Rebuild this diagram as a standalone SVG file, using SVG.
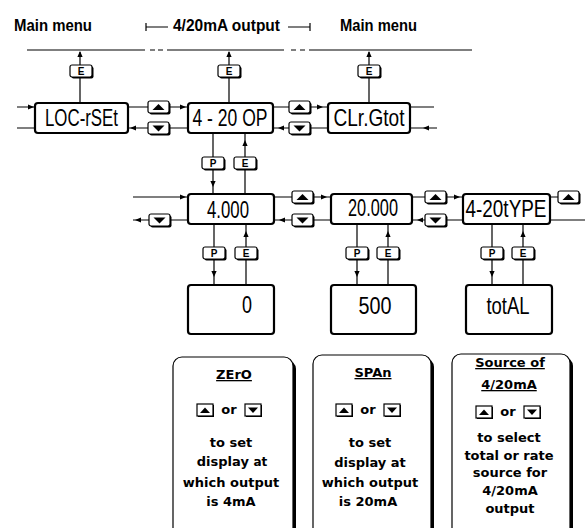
<svg xmlns="http://www.w3.org/2000/svg" width="585" height="528" viewBox="0 0 585 528">
<style>
.ln{stroke:#000;stroke-width:1.2;fill:none}
.box{fill:#fff;stroke:#000;stroke-width:2.2}
.disp{font-family:"Liberation Sans Narrow","Liberation Sans",sans-serif;font-size:24px;text-anchor:middle;fill:#000}
.hdr{font-family:"Liberation Sans Narrow","Liberation Sans",sans-serif;font-weight:bold;font-size:17px;fill:#000}
.info{font-family:"DejaVu Sans",Verdana,sans-serif;font-weight:bold;font-size:13px;text-anchor:middle;fill:#000}
.ul{text-decoration:underline}
.key{font-family:"Liberation Sans",Arial,sans-serif;font-weight:bold;font-size:10px;text-anchor:middle;fill:#000}
.ibox{fill:#fff;stroke:#000;stroke-width:1.2}
</style>
<defs>
<path id="ah" d="M0,0 L-6,-2.6 L-6,2.6 Z" fill="#000"/>
<g id="kbox"><rect x="1.5" y="1.5" width="22" height="12" rx="2" fill="#000"/><rect x="0" y="0" width="22" height="12" rx="2" fill="#fff" stroke="#000" stroke-width="1.2"/></g>
<g id="bu"><rect x="1.5" y="1.5" width="21" height="12" rx="2" fill="#000"/><rect x="0" y="0" width="21" height="12" rx="2" fill="#fff" stroke="#000" stroke-width="1.2"/><path d="M4.5,9 L16.5,9 L10.5,3 Z" fill="#000"/></g>
<g id="bd"><rect x="1.5" y="1.5" width="21" height="12" rx="2" fill="#000"/><rect x="0" y="0" width="21" height="12" rx="2" fill="#fff" stroke="#000" stroke-width="1.2"/><path d="M4.5,3.5 L16.5,3.5 L10.5,9.5 Z" fill="#000"/></g>
<g id="iu"><rect x="1" y="1" width="16" height="12" fill="#000"/><rect x="0" y="0" width="16" height="12" fill="#fff" stroke="#000" stroke-width="1.2"/><path d="M3,9 L13,9 L8,3.5 Z" fill="#000"/></g>
<g id="id"><rect x="1" y="1" width="16" height="12" fill="#000"/><rect x="0" y="0" width="16" height="12" fill="#fff" stroke="#000" stroke-width="1.2"/><path d="M3,3.5 L13,3.5 L8,9 Z" fill="#000"/></g>
</defs>

<g id="headers">
<text class="hdr" x="14" y="31" textLength="78" lengthAdjust="spacingAndGlyphs">Main menu</text>
<text class="hdr" x="173" y="31" textLength="107" lengthAdjust="spacingAndGlyphs">4/20mA output</text>
<text class="hdr" x="340" y="31" textLength="77" lengthAdjust="spacingAndGlyphs">Main menu</text>
<path class="ln" d="M146,23 V31 M146,27 H168 M288,27 H310 M310,23 V31"/>
</g>

<g id="connectors">
<path class="ln" d="M27,50 H145 M150,50 H155 M158,50 H163 M167,50 H284 M291,50 H296 M300,50 H305 M309,50 H472"/>
<path class="ln" d="M80,103 V52 M229,103 V52 M369,103 V52"/>
<use href="#ah" transform="translate(80,51) rotate(-90)"/>
<use href="#ah" transform="translate(229,51) rotate(-90)"/>
<use href="#ah" transform="translate(369,51) rotate(-90)"/>
<path class="ln" d="M17,107 H35 M17,128 H35 M128,107 H148 M169,107 H188 M128,128 H148 M169,128 H188 M273,107 H289 M310,107 H328 M273,128 H289 M310,128 H328 M410,107 H434 M410,128 H437"/>
<use href="#ah" transform="translate(34,107)"/>
<use href="#ah" transform="translate(186,107)"/>
<use href="#ah" transform="translate(130,128) rotate(180)"/>
<use href="#ah" transform="translate(323,107)"/>
<use href="#ah" transform="translate(278,128) rotate(180)"/>
<use href="#ah" transform="translate(423,128) rotate(180)"/>
<path class="ln" d="M213,133 V194 M245,194 V133"/>
<use href="#ah" transform="translate(213,187) rotate(90)"/>
<use href="#ah" transform="translate(245,140) rotate(-90)"/>
<path class="ln" d="M133,197 H188 M133,220 H149 M170,220 H188 M274,197 H292 M313,197 H331 M274,220 H292 M313,220 H331 M412,197 H425 M446,197 H463 M412,220 H425 M446,220 H463 M550,197 H558 M550,220 H585"/>
<use href="#ah" transform="translate(186,197)"/>
<use href="#ah" transform="translate(135,220) rotate(180)"/>
<use href="#ah" transform="translate(327,197)"/>
<use href="#ah" transform="translate(279,220) rotate(180)"/>
<use href="#ah" transform="translate(460,197)"/>
<use href="#ah" transform="translate(417,220) rotate(180)"/>
<path class="ln" d="M214,224 V285 M246,285 V224 M357,224 V285 M388,285 V224 M492,224 V285 M523,285 V224"/>
<use href="#ah" transform="translate(214,277) rotate(90)"/>
<use href="#ah" transform="translate(246,231) rotate(-90)"/>
<use href="#ah" transform="translate(357,277) rotate(90)"/>
<use href="#ah" transform="translate(388,231) rotate(-90)"/>
<use href="#ah" transform="translate(492,277) rotate(90)"/>
<use href="#ah" transform="translate(523,231) rotate(-90)"/>
<use href="#bu" x="148" y="101"/><use href="#bd" x="148" y="122"/>
<use href="#bu" x="289" y="101"/><use href="#bd" x="289" y="122"/>
<use href="#bd" x="149" y="214"/>
<use href="#bu" x="292" y="191"/><use href="#bd" x="292" y="214"/>
<use href="#bu" x="425" y="191"/><use href="#bd" x="425" y="214"/>
<use href="#bu" x="558" y="191"/>
<use href="#kbox" x="70" y="65"/><text class="key" x="81" y="75">E</text>
<use href="#kbox" x="218" y="65"/><text class="key" x="229" y="75">E</text>
<use href="#kbox" x="358" y="65"/><text class="key" x="369" y="75">E</text>
<use href="#kbox" x="202" y="157"/><text class="key" x="213" y="167">P</text>
<use href="#kbox" x="234" y="157"/><text class="key" x="245" y="167">E</text>
<use href="#kbox" x="203" y="247"/><text class="key" x="214" y="257">P</text>
<use href="#kbox" x="235" y="247"/><text class="key" x="246" y="257">E</text>
<use href="#kbox" x="346" y="247"/><text class="key" x="357" y="257">P</text>
<use href="#kbox" x="377" y="247"/><text class="key" x="388" y="257">E</text>
<use href="#kbox" x="481" y="247"/><text class="key" x="492" y="257">P</text>
<use href="#kbox" x="512" y="247"/><text class="key" x="523" y="257">E</text>
</g>

<g id="locrset"><rect class="box" x="35" y="103" width="93" height="30" rx="3"/><text class="disp" x="81.5" y="126" textLength="73" lengthAdjust="spacingAndGlyphs">LOC-rSEt</text></g>
<g id="op420"><rect class="box" x="188" y="103" width="85" height="30" rx="3"/><text class="disp" x="230" y="126" textLength="75" lengthAdjust="spacingAndGlyphs">4 - 20 OP</text></g>
<g id="clrgtot"><rect class="box" x="328" y="103" width="82" height="30" rx="3"/><text class="disp" x="369" y="126" textLength="71" lengthAdjust="spacingAndGlyphs">CLr.Gtot</text></g>

<g id="zero"><rect class="box" x="188" y="194" width="86" height="30" rx="3"/><text class="disp" x="228" y="218" font-size="21" textLength="42" lengthAdjust="spacingAndGlyphs">4.000</text></g>
<g id="span"><rect class="box" x="331" y="194" width="81" height="30" rx="3"/><text class="disp" x="373" y="216" font-size="20" textLength="50" lengthAdjust="spacingAndGlyphs">20.000</text></g>
<g id="type"><rect class="box" x="463" y="194" width="87" height="30" rx="3"/><text class="disp" x="506" y="217" font-size="25" textLength="81" lengthAdjust="spacingAndGlyphs">4-20tYPE</text></g>

<g id="zeroval"><rect class="box" x="188" y="285" width="86" height="49" rx="3"/><text class="disp" x="247" y="313" textLength="10" lengthAdjust="spacingAndGlyphs">0</text></g>
<g id="spanval"><rect class="box" x="331" y="285" width="85" height="49" rx="3"/><text class="disp" x="375" y="314" textLength="33" lengthAdjust="spacingAndGlyphs">500</text></g>
<g id="typeval"><rect class="box" x="466" y="285" width="86" height="49" rx="3"/><text class="disp" x="508" y="314" textLength="43" lengthAdjust="spacingAndGlyphs">totAL</text></g>

<g id="info-zero">
<rect x="176" y="360" width="120" height="200" rx="9" fill="#000"/>
<rect class="ibox" x="173" y="357" width="120" height="200" rx="9"/>
<text class="info ul" x="234" y="379">ZErO</text>
<use href="#iu" x="197" y="404"/><text class="info" x="229" y="414">or</text><use href="#id" x="245" y="404"/>
<text class="info" x="231" y="447">to set</text>
<text class="info" x="232" y="466">display <tspan font-size="12">at</tspan></text>
<text class="info" x="231" y="487">which output</text>
<text class="info" x="231" y="506">is 4mA</text>
</g>
<g id="info-span">
<rect x="316" y="358" width="118" height="200" rx="9" fill="#000"/>
<rect class="ibox" x="313" y="355" width="118" height="200" rx="9"/>
<text class="info ul" x="373" y="377">SPAn</text>
<use href="#iu" x="336" y="404"/><text class="info" x="368" y="414">or</text><use href="#id" x="384" y="404"/>
<text class="info" x="370" y="447">to set</text>
<text class="info" x="370" y="467">display at</text>
<text class="info" x="370" y="487">which output</text>
<text class="info" x="368" y="506">is  20mA</text>
</g>
<g id="info-type">
<rect x="455" y="357" width="118" height="200" rx="9" fill="#000"/>
<rect class="ibox" x="452" y="354" width="118" height="200" rx="9"/>
<text class="info ul" x="510" y="367">Source of</text>
<text class="info ul" x="509" y="389">4/20mA</text>
<use href="#iu" x="476" y="406"/><text class="info" x="508" y="416">or</text><use href="#id" x="524" y="406"/>
<text class="info" x="509" y="442">to select</text>
<text class="info" x="509" y="460">total or rate</text>
<text class="info" x="510" y="477">source for</text>
<text class="info" x="510" y="495">4/20mA</text>
<text class="info" x="510" y="513">output</text>
</g>
</svg>
